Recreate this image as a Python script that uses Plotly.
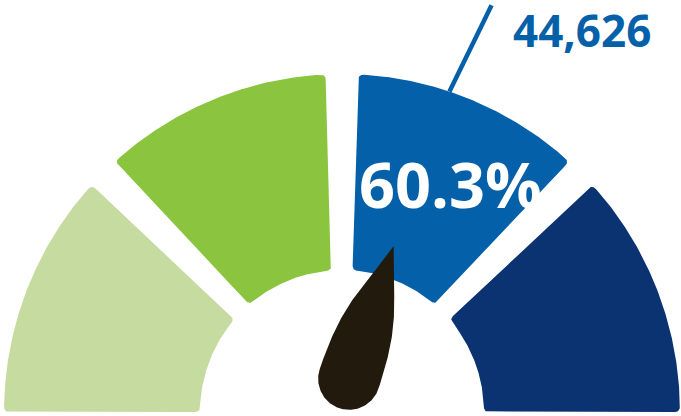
import numpy as np
import plotly.graph_objects as go

# ---- data ----
band_edges = [0, 25, 50, 75, 100]          # percent bands of the gauge
band_colors = ["#c6dba0", "#8bc540", "#0460a9", "#0c3371"]
value_pct = 60.3                            # needle value (percent)
value_label = "60.3%"
count_label = "44,626"

# ---- geometry (pixel-like units, gauge centre at origin) ----
R_OUT, R_IN = 338.0, 142.0
GAP_OUT, GAP_IN = 16.5, 10.5   # half gap widths at outer / inner radius
CORNER = 5.0


def pct_to_ang(p):
    return np.pi * (1 - p / 100.0)


def arc(r, a_start, a_end, n=160):
    t = np.linspace(a_start, a_end, n)
    return np.column_stack([r * np.cos(t), r * np.sin(t)])


def line(p, q, n=40):
    t = np.linspace(0, 1, n)[:, None]
    return p[None, :] * (1 - t) + q[None, :] * t


def round_poly(edges, d):
    m = len(edges)
    trimmed = []
    for e in edges:
        s, f = e[0], e[-1]
        keep = (np.hypot(*(e - s).T) >= d) & (np.hypot(*(e - f).T) >= d)
        trimmed.append(e[keep])
    pts = []
    for k in range(m):
        pts.append(trimmed[k])
        corner = edges[k][-1]
        a = trimmed[k][-1]
        b = trimmed[(k + 1) % m][0]
        t = np.linspace(0, 1, 12)[:, None]
        pts.append((1 - t) ** 2 * a + 2 * (1 - t) * t * corner + t ** 2 * b)
    P = np.vstack(pts)
    return np.vstack([P, P[:1]])


fig = go.Figure()

for i in range(len(band_edges) - 1):
    a0 = pct_to_ang(band_edges[i])
    a1 = pct_to_ang(band_edges[i + 1])
    first, last = i == 0, i == len(band_edges) - 2
    g0o, g0i = (0, 0) if first else (GAP_OUT, GAP_IN)
    g1o, g1i = (0, 0) if last else (GAP_OUT, GAP_IN)
    outer = arc(R_OUT, a0 - np.arcsin(g0o / R_OUT), a1 + np.arcsin(g1o / R_OUT))
    inner = arc(R_IN, a1 + np.arcsin(g1i / R_IN), a0 - np.arcsin(g0i / R_IN))
    e1 = line(outer[-1], inner[0])
    e2 = line(inner[-1], outer[0])
    poly = round_poly([outer, e1, inner, e2], CORNER)
    fig.add_trace(go.Scatter(x=poly[:, 0], y=poly[:, 1], mode="lines",
                             fill="toself", fillcolor=band_colors[i],
                             line=dict(width=0, color=band_colors[i]),
                             hoverinfo="skip", showlegend=False))

# ---- needle (teardrop) ----
th = pct_to_ang(value_pct)
u = np.array([np.cos(th), np.sin(th)])
v = np.array([-np.sin(th), np.cos(th)])
base = 35.0 * u + np.array([-4.0, 0.0])
rho = 31.0
tip = base + 140.0 * u
half_tip = np.deg2rad(17)
ts = np.linspace(np.pi / 2, 3 * np.pi / 2, 120)
circ = np.array([base + rho * (np.cos(t) * u + np.sin(t) * v) for t in ts])
Pp, Pm = circ[0], circ[-1]          # +v side, -v side
t = np.linspace(0, 1, 80)[:, None]
d_m = np.cos(half_tip) * u + np.sin(half_tip) * v
d_p = np.cos(half_tip) * u - np.sin(half_tip) * v
A, B = 72.0, 55.0
c1, c2 = Pm + A * u, tip - B * d_m
side_m = ((1 - t) ** 3 * Pm + 3 * (1 - t) ** 2 * t * c1
          + 3 * (1 - t) * t ** 2 * c2 + t ** 3 * tip)
c1, c2 = tip - B * d_p, Pp + A * u
side_p = ((1 - t) ** 3 * tip + 3 * (1 - t) ** 2 * t * c1
          + 3 * (1 - t) * t ** 2 * c2 + t ** 3 * Pp)
needle = np.vstack([circ, side_m, side_p])
fig.add_trace(go.Scatter(x=needle[:, 0], y=needle[:, 1], mode="lines",
                         fill="toself", fillcolor="#221b0d",
                         line=dict(width=0, color="#221b0d"),
                         hoverinfo="skip", showlegend=False))

# ---- leader line + labels ----
p0 = R_OUT * u
lead_ang = np.deg2rad(64)
p1 = p0 + 96.0 * np.array([np.cos(lead_ang), np.sin(lead_ang)])
fig.add_trace(go.Scatter(x=[p0[0], p1[0]], y=[p0[1], p1[1]], mode="lines",
                         line=dict(width=4.5, color=band_colors[2]),
                         hoverinfo="skip", showlegend=False))

fig.add_annotation(x=p1[0] + 19, y=p1[1] - 25, text=f"<b>{count_label}</b>",
                   showarrow=False, xanchor="left", yanchor="middle",
                   font=dict(family="Open Sans", size=44, color=band_colors[2]))

mid_ang = np.deg2rad(64.5)
lab = 253.0 * np.array([np.cos(mid_ang), np.sin(mid_ang)])
fig.add_annotation(x=lab[0], y=lab[1], text=f"<b>{value_label}</b>",
                   showarrow=False, xanchor="center", yanchor="middle",
                   font=dict(family="Open Sans", size=63, color="white"))

fig.update_xaxes(range=[-342, 339], visible=False, fixedrange=True)
fig.update_yaxes(range=[-4, 412], visible=False, fixedrange=True)
fig.update_layout(width=681, height=416, margin=dict(l=0, r=0, t=0, b=0),
                  plot_bgcolor="white", paper_bgcolor="white",
                  showlegend=False)
fig.write_html("out.html", config={"displayModeBar": False},
               post_script="document.body.style.margin='0';")
